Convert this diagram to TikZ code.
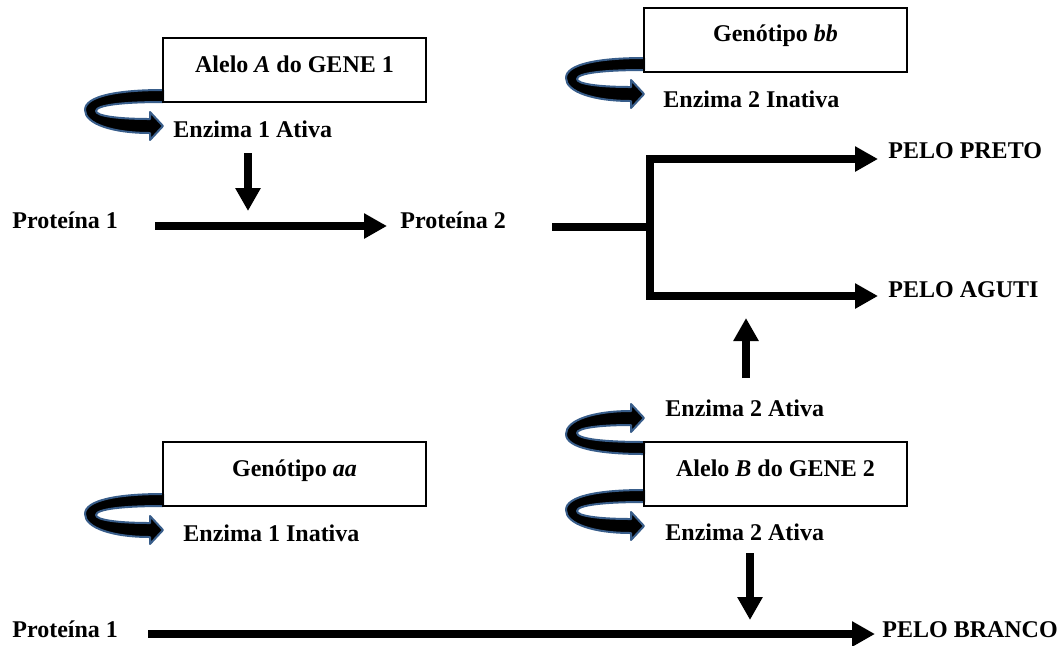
\documentclass[12pt,tikz,border=0pt]{standalone}
\usepackage{fontspec}
\setmainfont{Liberation Serif}
\usetikzlibrary{arrows.meta}
\definecolor{curlblue}{RGB}{56,93,138}

\tikzset{
    genebox/.style={draw, line width=1pt, minimum width=131.5pt, minimum height=32pt,
        text height=10pt, text depth=8pt, inner sep=0pt, font=\fontsize{12pt}{14pt}\selectfont\bfseries},
    lbl/.style={anchor=base west, inner sep=0pt, font=\fontsize{12pt}{14pt}\selectfont\bfseries},
    fat/.style={line width=4pt, -{Triangle[length=11.5pt,width=12pt]}},
    curlribbon/.style={fill=black, draw=curlblue, line width=1pt, line join=round}
}

% curved arrow leaving a box: #1,#2 = box edge point, #3 = yscale (flip with -1)
\newcommand{\curlarrow}[3]{
    \begin{scope}[shift={(#1,#2)}, yscale=#3]
        \filldraw[curlribbon] (0,-12) .. controls (-45,-12) and (-78,-6) .. (-78,8)
            .. controls (-78,22) and (-50,31) .. (-13,31)
            -- (-13,38) -- (0,24) -- (-13,10) -- (-13,17)
            .. controls (-45,17) and (-67,14) .. (-67,9)
            .. controls (-67,3) and (-40,0) .. (0,0) -- cycle;
    \end{scope}
}

\begin{document}
\begin{tikzpicture}[x=0.5pt, y=-0.5pt]
        \useasboundingbox (0,0) rectangle (1062,645);

        % Curved arrows out of the genes
        \curlarrow{163}{102}{1}
        \curlarrow{644}{70}{1}
        \curlarrow{163}{506}{1}
        \curlarrow{644}{442}{-1}
        \curlarrow{644}{502}{1}

        % Genes and genotypes
        \node[genebox] (geneA) at (294.5,70) {Alelo \textit{A} do GENE 1};
        \node[genebox] (genobb) at (775.5,39.5) {Genótipo \textit{bb}};
        \node[genebox] (genoaa) at (294.5,474) {Genótipo \textit{aa}};
        \node[genebox] (geneB) at (775.5,474) {Alelo \textit{B} do GENE 2};

        % Enzymes
        \node[lbl] (enzAtiva1) at (173,137) {Enzima 1 Ativa};
        \node[lbl] (enzInativa2) at (663,107) {Enzima 2 Inativa};
        \node[lbl] (enzAtiva2up) at (665,416) {Enzima 2 Ativa};
        \node[lbl] (enzInativa1) at (183,541) {Enzima 1 Inativa};
        \node[lbl] (enzAtiva2dn) at (665,540) {Enzima 2 Ativa};

        % Proteins and coat colours
        \node[lbl] (prot1) at (12,228) {Proteína 1};
        \node[lbl] (prot2) at (400,228) {Proteína 2};
        \node[lbl] (preto) at (888,158) {PELO PRETO};
        \node[lbl] (aguti) at (888,297) {PELO AGUTI};
        \node[lbl] (prot1b) at (12,637) {Proteína 1};
        \node[lbl] (branco) at (882,637) {PELO BRANCO};

        % Arrow end points
        \coordinate (enz1top) at (248,153);
        \coordinate (enz1tip) at (248,211);
        \coordinate (p1start) at (155,226);
        \coordinate (p1end) at (387,226);
        \coordinate (p2start) at (552,227);
        \coordinate (fork) at (650,227);
        \coordinate (forkup) at (650,159);
        \coordinate (forkdn) at (650,296);
        \coordinate (pretotip) at (878,159);
        \coordinate (agutitip) at (878,296);
        \coordinate (enz2base) at (746,378);
        \coordinate (enz2tip) at (746,318);
        \coordinate (enzBtop) at (750,553);
        \coordinate (enzBtip) at (750,620);
        \coordinate (p1bstart) at (148,634);
        \coordinate (brancotip) at (875,634);

        % Pathway arrows
        \draw[fat] (enz1top) -- (enz1tip);
        \draw[fat] (p1start) -- (p1end);
        \draw[line width=4pt] (p2start) -- (fork);
        \draw[line width=4pt, {Triangle[length=11.5pt,width=12pt]}-{Triangle[length=11.5pt,width=12pt]}]
            (pretotip) -- (forkup) -- (forkdn) -- (agutitip);
        \draw[fat] (enz2base) -- (enz2tip);
        \draw[fat] (enzBtop) -- (enzBtip);
        \draw[fat] (p1bstart) -- (brancotip);
    \end{tikzpicture}
\end{document}
